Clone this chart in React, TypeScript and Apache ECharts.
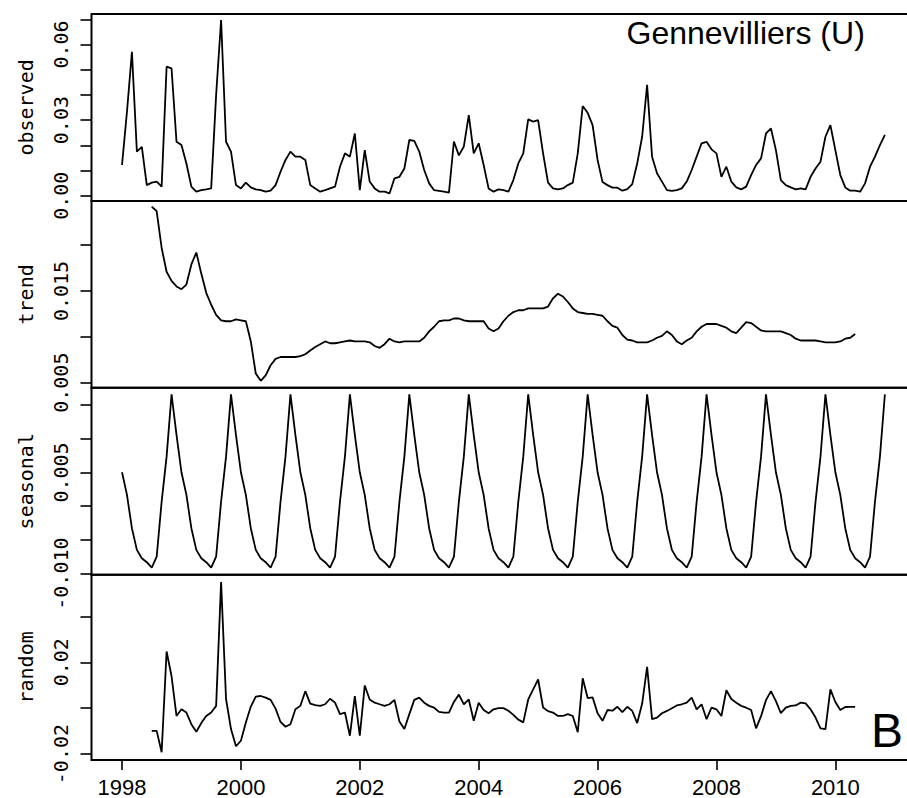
import React, { useEffect, useRef } from "react";
import * as echarts from "echarts";

// Monthly series, Jan 1998 .. Nov 2010 (155 months)
const startYear = 1998;
const observed = [
  0.0122, 0.0333, 0.0571, 0.0175, 0.0194, 0.0042, 0.0052, 0.0056, 0.0036, 0.0512, 0.0505, 0.0214,
  0.0201, 0.0128, 0.0036, 0.0016, 0.0022, 0.0025, 0.0029, 0.0400, 0.0697, 0.0214, 0.0175, 0.0042,
  0.0029, 0.0052, 0.0033, 0.0025, 0.0022, 0.0016, 0.0020, 0.0042, 0.0095, 0.0142, 0.0175, 0.0155,
  0.0155, 0.0142, 0.0042, 0.0029, 0.0016, 0.0022, 0.0029, 0.0036, 0.0115, 0.0168, 0.0155, 0.0247,
  0.0022, 0.0181, 0.0056, 0.0029, 0.0016, 0.0016, 0.0009, 0.0069, 0.0075, 0.0108, 0.0221, 0.0218,
  0.0175, 0.0102, 0.0049, 0.0022, 0.0019, 0.0016, 0.0012, 0.0215, 0.0160, 0.0195, 0.0320, 0.0168,
  0.0208, 0.0122, 0.0029, 0.0016, 0.0025, 0.0022, 0.0016, 0.0062, 0.0128, 0.0168, 0.0303, 0.0294,
  0.0300, 0.0168, 0.0052, 0.0029, 0.0025, 0.0029, 0.0042, 0.0052, 0.0168, 0.0356, 0.0329, 0.0280,
  0.0142, 0.0054, 0.0042, 0.0032, 0.0032, 0.0020, 0.0026, 0.0046, 0.0128, 0.0234, 0.0440, 0.0155,
  0.0089, 0.0056, 0.0022, 0.0019, 0.0022, 0.0029, 0.0056, 0.0102, 0.0155, 0.0208, 0.0214, 0.0184,
  0.0168, 0.0075, 0.0115, 0.0056, 0.0033, 0.0025, 0.0036, 0.0082, 0.0122, 0.0148, 0.0247, 0.0267,
  0.0181, 0.0062, 0.0042, 0.0033, 0.0025, 0.0029, 0.0025, 0.0075, 0.0108, 0.0135, 0.0234, 0.0280,
  0.0181, 0.0082, 0.0033, 0.0020, 0.0020, 0.0016, 0.0049, 0.0115, 0.0155, 0.0201, 0.0241,
];

// trend and random start in July 1998 (month index 6) and end in May 2010
const componentStartIndex = 6;
const trend = [
  0.0242, 0.0237, 0.0197, 0.0171, 0.0161, 0.0155,
  0.0152, 0.0157, 0.0179, 0.0192, 0.0169, 0.0148, 0.0135, 0.0124, 0.0118, 0.0117, 0.0117, 0.0119,
  0.0118, 0.0117, 0.0095, 0.0060, 0.0052, 0.0058, 0.0069, 0.0076, 0.0078, 0.0078, 0.0078, 0.0078,
  0.0079, 0.0081, 0.0085, 0.0089, 0.0092, 0.0095, 0.0093, 0.0093, 0.0094, 0.0095, 0.0096, 0.0095,
  0.0095, 0.0095, 0.0094, 0.0090, 0.0088, 0.0092, 0.0098, 0.0095, 0.0094, 0.0095, 0.0095, 0.0095,
  0.0095, 0.0099, 0.0106, 0.0111, 0.0117, 0.0118, 0.0118, 0.0120, 0.0120, 0.0118, 0.0117, 0.0117,
  0.0117, 0.0117, 0.0109, 0.0106, 0.0109, 0.0117, 0.0123, 0.0127, 0.0129, 0.0129, 0.0131, 0.0131,
  0.0131, 0.0131, 0.0133, 0.0142, 0.0147, 0.0144, 0.0138, 0.0131, 0.0127, 0.0126, 0.0125, 0.0125,
  0.0124, 0.0123, 0.0117, 0.0112, 0.0110, 0.0102, 0.0097, 0.0096, 0.0094, 0.0094, 0.0094, 0.0096,
  0.0099, 0.0101, 0.0106, 0.0102, 0.0095, 0.0092, 0.0096, 0.0099, 0.0106, 0.0111, 0.0114, 0.0114,
  0.0114, 0.0112, 0.0110, 0.0106, 0.0104, 0.0110, 0.0116, 0.0115, 0.0111, 0.0107, 0.0106, 0.0106,
  0.0106, 0.0106, 0.0104, 0.0102, 0.0098, 0.0096, 0.0096, 0.0096, 0.0096, 0.0095, 0.0094, 0.0094,
  0.0094, 0.0095, 0.0098, 0.0099, 0.0103,
];
const random = [
  -0.0099, -0.0099, -0.0192, 0.0247, 0.0139, -0.0034,
  -0.0005, -0.0019, -0.0070, -0.0103, -0.0065, -0.0034, -0.0019, 0.0010, 0.0549, 0.0040, -0.0091, -0.0166,
  -0.0142, -0.0062, 0.0007, 0.0050, 0.0053, 0.0046, 0.0036, -0.0002, -0.0060, -0.0081, -0.0070, -0.0005,
  0.0010, 0.0074, 0.0020, 0.0013, 0.0010, 0.0017, 0.0041, 0.0024, -0.0026, -0.0019, -0.0120, 0.0053,
  -0.0120, 0.0099, 0.0038, 0.0024, 0.0017, 0.0010, 0.0017, 0.0036, -0.0058, -0.0091, -0.0026, 0.0036,
  0.0046, 0.0024, 0.0010, 0.0002, -0.0016, -0.0019, -0.0019, 0.0027, 0.0059, 0.0017, 0.0038, -0.0055,
  0.0024, -0.0008, -0.0022, -0.0005, 0.0000, 0.0000, -0.0011, -0.0029, -0.0050, -0.0062, 0.0038, 0.0082,
  0.0125, 0.0003, -0.0013, -0.0019, -0.0034, -0.0034, -0.0026, -0.0034, -0.0105, 0.0130, 0.0044, 0.0047,
  -0.0022, -0.0055, -0.0008, -0.0011, 0.0006, -0.0017, 0.0006, -0.0012, -0.0065, 0.0020, 0.0180, -0.0048,
  -0.0041, -0.0022, -0.0012, 0.0000, 0.0012, 0.0017, 0.0024, 0.0046, -0.0005, 0.0017, -0.0048, 0.0002,
  -0.0005, -0.0034, 0.0078, 0.0040, 0.0024, 0.0010, 0.0002, -0.0008, -0.0088, -0.0035, 0.0035, 0.0074,
  0.0031, -0.0022, 0.0002, 0.0010, 0.0012, 0.0024, 0.0021, -0.0005, -0.0041, -0.0088, -0.0091, 0.0082,
  0.0027, -0.0008, 0.0005, 0.0006, 0.0006,
];
// seasonal component: one value per calendar month (Jan..Dec), repeated each year by decompose()
const seasonalCycle = [
  0.00503, 0.00167, -0.00327, -0.00648, -0.00772, -0.00831,
  -0.0091, -0.00747, 0.00067, 0.00734, 0.01658, 0.01056,
];

const xTicks = [1998, 2000, 2002, 2004, 2006, 2008, 2010];
const panelNames = ["observed", "trend", "seasonal", "random"];
const yTicks = [
  [0, 0.01, 0.02, 0.03, 0.04, 0.05, 0.06, 0.07],
  [0.005, 0.01, 0.015, 0.02],
  [-0.01, -0.005, 0, 0.005, 0.01, 0.015],
  [-0.02, 0, 0.02, 0.04],
];
const yTickLabels = [
  [0, 0.03, 0.06],
  [0.005, 0.015],
  [-0.01, 0.005],
  [-0.02, 0.02],
];
const yDecimals = [2, 3, 3, 2];
const yRanges = [
  [-0.00206, 0.0721],
  [0.00444, 0.02483],
  [-0.01016, 0.01755],
  [-0.02258, 0.0581],
];
const xRange = [1997.4867, 2011.3467];

const monthTime = (i: number) => startYear + i / 12;

export default function App() {
  const ref = useRef<HTMLDivElement>(null);

  useEffect(() => {
    if (!ref.current) return;
    const chart = echarts.init(ref.current, undefined, { renderer: "svg" });

    const panelTops = [14, 200.9, 387.8, 574.8];
    const panelHeight = 186.9;
    const gridLeft = 91.5;
    const gridWidth = 823.9;
    const monoFont = "DejaVu Sans Mono";
    const sansFont = "Liberation Sans";

    const seriesData = [
      observed.map((v, i) => [monthTime(i), v]),
      trend.map((v, i) => [monthTime(i + componentStartIndex), v]),
      observed.map((_, i) => [monthTime(i), seasonalCycle[i % 12]]),
      random.map((v, i) => [monthTime(i + componentStartIndex), v]),
    ];

    const option: any = {
      animation: false,
      backgroundColor: "#ffffff",
      grid: panelTops.map((t) => ({
        left: gridLeft,
        width: gridWidth,
        top: t,
        height: panelHeight,
        show: true,
        borderColor: "#000",
        borderWidth: 2,
        backgroundColor: "transparent",
      })),
      xAxis: panelNames.map((_, k) => ({
        type: "value",
        gridIndex: k,
        position: "bottom",
        min: xRange[0],
        max: xRange[1],
        axisLine: { show: false, onZero: false },
        splitLine: { show: false },
        axisTick:
          k === 3
            ? {
                show: true,
                customValues: xTicks,
                length: 10,
                lineStyle: { color: "#000", width: 1.6 },
              }
            : { show: false },
        axisLabel:
          k === 3
            ? {
                show: true,
                customValues: xTicks,
                margin: 16,
                color: "#000",
                fontFamily: sansFont,
                fontSize: 22,
                formatter: (v: number) => String(Math.round(v)),
              }
            : { show: false },
      })),
      yAxis: panelNames.map((name, k) => ({
        type: "value",
        gridIndex: k,
        position: "left",
        min: yRanges[k][0],
        max: yRanges[k][1],
        name,
        nameLocation: "middle",
        nameRotate: 90,
        nameGap: 56,
        nameTextStyle: { color: "#000", fontFamily: monoFont, fontSize: 20 },
        axisLine: { show: false, onZero: false },
        splitLine: { show: false },
        axisTick: {
          show: true,
          customValues: yTicks[k],
          length: 11,
          lineStyle: { color: "#000", width: 1.6 },
        },
        axisLabel: {
          show: true,
          customValues: yTickLabels[k],
          rotate: 90,
          margin: 21,
          color: "#000",
          fontFamily: monoFont,
          fontSize: 20,
          formatter: (v: number) => v.toFixed(yDecimals[k]),
        },
      })),
      series: seriesData.map((data, k) => ({
        type: "line",
        xAxisIndex: k,
        yAxisIndex: k,
        data,
        showSymbol: false,
        symbol: "none",
        silent: true,
        clip: true,
        lineStyle: { color: "#000", width: 1.8 },
      })),
      graphic: [
        {
          type: "text",
          x: 626.5,
          y: 32.6,
          style: {
            text: "Gennevilliers (U)",
            fill: "#000",
            fontFamily: sansFont,
            fontSize: 32,
            textAlign: "left",
            textVerticalAlign: "middle",
            align: "left",
            verticalAlign: "middle",
          },
        },
        {
          type: "text",
          x: 871,
          y: 730,
          style: {
            text: "B",
            fill: "#000",
            fontFamily: sansFont,
            fontSize: 48,
            textAlign: "left",
            textVerticalAlign: "middle",
            align: "left",
            verticalAlign: "middle",
          },
        },
      ],
    };

    chart.setOption(option);
    return () => chart.dispose();
  }, []);

  return (
    <div
      style={{
        position: "absolute",
        left: 0,
        top: 0,
        width: 907,
        height: 798,
        overflow: "hidden",
        background: "#fff",
      }}
    >
      <div ref={ref} style={{ width: 916, height: 798 }} />
    </div>
  );
}
